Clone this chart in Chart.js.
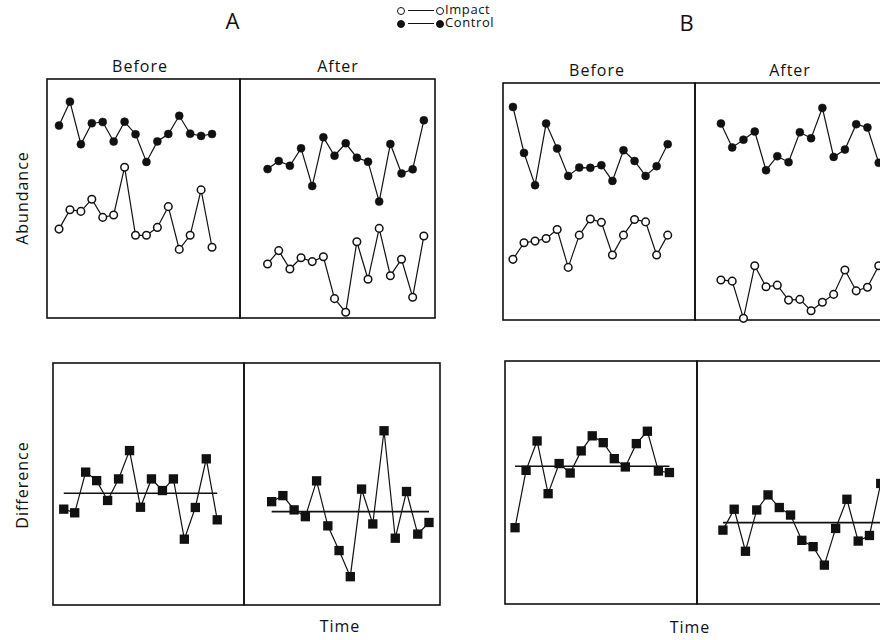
<!DOCTYPE html>
<html>
<head>
<meta charset="utf-8">
<script src="https://cdn.jsdelivr.net/npm/chart.js@4/dist/chart.umd.min.js"></script>
<style>
html,body{margin:0;padding:0;background:#fff;overflow:hidden;width:880px;height:640px;}
#fig{position:relative;width:880px;height:640px;overflow:hidden;font-family:"Open Sans","DejaVu Sans",sans-serif;color:#111;}
.panel{position:absolute;}
.lbl{position:absolute;white-space:nowrap;transform:translate(-50%,-50%);letter-spacing:1px;}
.big{font-size:22px;}
.mid{font-size:16px;}
.rot{transform:translate(-50%,-50%) rotate(-90deg);}
.leg{position:absolute;font-size:13px;letter-spacing:0.6px;white-space:nowrap;}
.leg div{height:13px;line-height:13px;}
.leg .mk{display:inline-block;width:6px;height:6px;border-radius:50%;border:1.5px solid #111;vertical-align:middle;margin-right:1px;}
.leg .mk.fill{background:#111;}
.leg .ln{display:inline-block;width:26px;border-top:1.3px solid #111;vertical-align:middle;margin:0 2px;}
</style>
</head>
<body>
<div id="fig">
  <div class="lbl big" style="left:233px;top:20px">A</div>
  <div class="lbl big" style="left:687px;top:22px">B</div>
  <div class="leg" style="left:397px;top:3px">
    <div><span class="mk"></span><span class="ln"></span><span class="mk"></span>Impact</div>
    <div><span class="mk fill"></span><span class="ln"></span><span class="mk fill"></span>Control</div>
  </div>
  <div class="lbl mid" style="left:140px;top:66px">Before</div>
  <div class="lbl mid" style="left:338px;top:66px">After</div>
  <div class="lbl mid" style="left:597px;top:70px">Before</div>
  <div class="lbl mid" style="left:790px;top:70px">After</div>
  <div class="lbl mid rot" style="left:22px;top:198px">Abundance</div>
  <div class="lbl mid rot" style="left:22px;top:485px">Difference</div>
  <div class="lbl mid" style="left:340px;top:626px">Time</div>
  <div class="lbl mid" style="left:690px;top:627px">Time</div>
</div>
<script>
// sampling times within each period
const times = [1,2,3,4,5,6,7,8,9,10,11,12,13,14,15];

// abundance, site A
const aBeforeControl = [80.5,90.5,72.7,81.5,82,73.8,82.1,76.9,65.3,73.9,77,84.6,77.1,76.2,77];
const aBeforeImpact  = [37.2,45.3,44.6,49.7,42.1,43.1,63.1,34.6,34.6,37.9,46.6,28.7,34.6,53.6,29.6];
const aAfterControl  = [62.3,65.7,63.7,71,55.2,75.6,67.9,73.1,67.1,65.4,48.7,72.8,60.5,62.2,82.7];
const aAfterImpact   = [22.6,28.2,20.5,25.2,23.6,25.6,8.1,2.4,31.9,16.2,37.5,17.7,24.6,8.7,34.3];
// abundance, site B
const bBeforeControl = [89.9,70.5,56.9,82.9,72.4,60.8,64.3,64.2,65.3,58.7,71.6,67.1,60.8,64.9,74.2];
const bBeforeImpact  = [25.6,32.6,33.3,34.4,38.2,22.2,35.8,42.6,41.2,27.4,35.8,42.4,41.4,27.4,35.8];
const bAfterControl  = [82.9,72.8,76.1,79.5,63.2,69.1,66.6,79.2,76.7,89.5,68.8,71.9,82.6,81.2,66.3];
const bAfterImpact   = [16.9,16.4,0.7,22.9,14,14.7,8.4,8.7,3.9,7.5,10.8,21.1,12.3,13.8,22.9];
// differences
const aBeforeDiff = [39.6,38.1,54.9,51.4,43.2,52.1,63.8,40.4,52.1,47.3,52.1,27.2,40.3,60.4,35.2];
const aAfterDiff  = [42.7,45.2,39.3,36.5,51.3,32.7,22.5,11.7,47.9,33.5,72,27.6,46.9,29.3,34.1];
const bBeforeDiff = [31.4,55,67.1,45.4,57.8,53.9,63,69.2,66.4,59.8,56.4,66,71.1,54.7,54.1];
const bAfterDiff  = [30.4,39,21.7,38.7,44.9,39.7,36.6,26.2,23.6,16,31.1,43.1,25.9,28.2,49.6];
// mean difference lines: A before, A after, B before, B after
const diffMeans = [46.2,38.6,56.7,33.5];

const INK = '#111';
const PAD = 8;

const frame = {
  id: 'frame',
  beforeDatasetsDraw(chart) {
    const a = chart.chartArea, c = chart.ctx;
    c.save();
    c.strokeStyle = INK;
    c.lineWidth = 1.6;
    c.strokeRect(a.left, a.top, a.right - a.left, a.bottom - a.top);
    c.restore();
  }
};

function pts(arr) { return times.map((t, i) => ({x: t, y: arr[i]})); }

function control(arr) {
  return {data: pts(arr), borderColor: INK, borderWidth: 1.2, pointStyle: 'circle',
    pointRadius: 4, pointBackgroundColor: INK, pointBorderColor: INK, pointBorderWidth: 0.5, clip: false};
}
function impact(arr) {
  return {data: pts(arr), borderColor: INK, borderWidth: 1.2, pointStyle: 'circle',
    pointRadius: 3.8, pointBackgroundColor: '#fff', pointBorderColor: INK, pointBorderWidth: 1.5, clip: false};
}
function diff(arr) {
  return {data: pts(arr), borderColor: INK, borderWidth: 1.2, pointStyle: 'rect',
    pointRadius: 6.6, pointBackgroundColor: INK, pointBorderColor: INK, pointBorderWidth: 0, clip: false, order: 0};
}
function mean(m) {
  return {data: [{x: times[0], y: m}, {x: times[times.length - 1], y: m}], borderColor: INK,
    borderWidth: 1.6, pointRadius: 0, clip: false, order: 1};
}

function panel(left, top, width, height, xmin, xmax, datasets) {
  const box = document.createElement('div');
  box.className = 'panel';
  box.style.left = (left - PAD) + 'px';
  box.style.top = (top - PAD) + 'px';
  box.style.width = (width + 2 * PAD) + 'px';
  box.style.height = (height + 2 * PAD) + 'px';
  const cv = document.createElement('canvas');
  box.appendChild(cv);
  document.getElementById('fig').appendChild(box);
  new Chart(cv, {
    type: 'line',
    data: {datasets: datasets},
    plugins: [frame],
    options: {
      responsive: true,
      maintainAspectRatio: false,
      animation: false,
      events: [],
      layout: {padding: PAD},
      elements: {line: {tension: 0}},
      plugins: {legend: {display: false}, tooltip: {enabled: false}},
      scales: {
        x: {type: 'linear', display: false, min: xmin, max: xmax},
        y: {display: false, min: 0, max: 100}
      }
    }
  });
}

// abundance panels
panel(47, 79, 193, 239, -0.1, 17.56, [control(aBeforeControl), impact(aBeforeImpact)]);
panel(240, 79, 195, 239, -1.47, 16.0, [control(aAfterControl), impact(aAfterImpact)]);
panel(503, 83, 192, 237, 0.1, 17.47, [control(bBeforeControl), impact(bBeforeImpact)]);
panel(695, 83, 195, 237, -1.3, 16.0, [control(bAfterControl), impact(bAfterImpact)]);
// difference panels
panel(53, 363, 191, 242, 0.02, 17.44, [diff(aBeforeDiff), mean(diffMeans[0])]);
panel(244, 363, 196, 242, -1.46, 15.98, [diff(aAfterDiff), mean(diffMeans[1])]);
panel(505, 361, 192, 243, 0.09, 17.5, [diff(bBeforeDiff), mean(diffMeans[2])]);
panel(697, 361, 195, 243, -1.3, 16.0, [diff(bAfterDiff), mean(diffMeans[3])]);
</script>
</body>
</html>
